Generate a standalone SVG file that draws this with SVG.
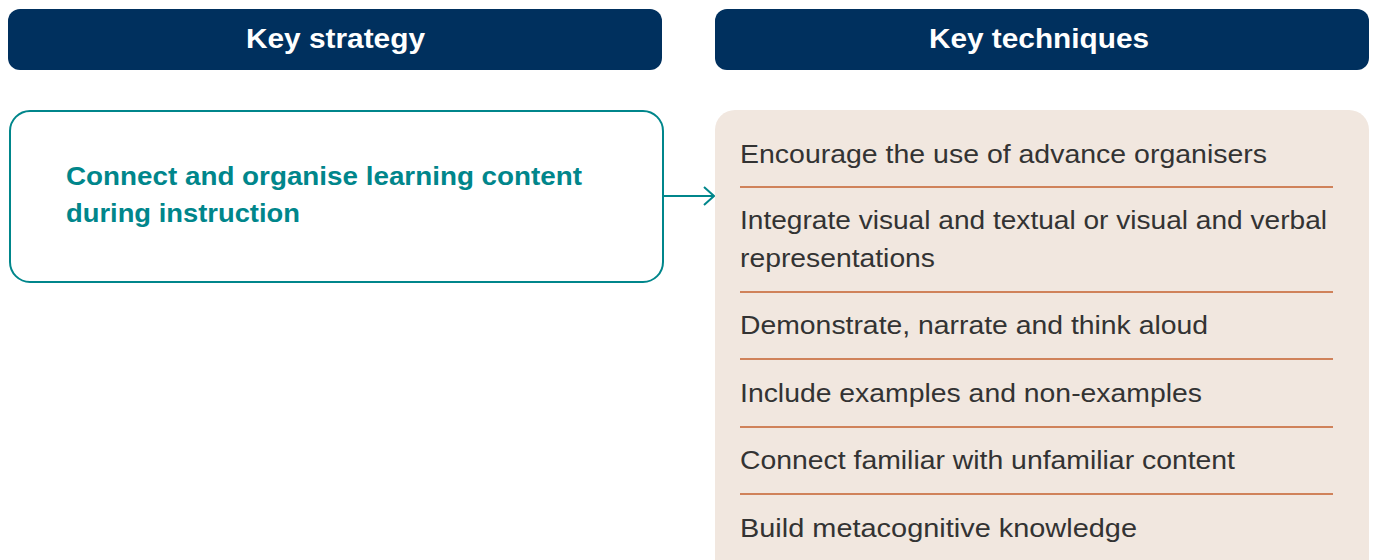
<svg xmlns="http://www.w3.org/2000/svg" width="1375" height="560" viewBox="0 0 1375 560">
  <style>
    .hdr { fill: #00305E; }
    .hdr-text { font-family: "Liberation Sans", Arial, sans-serif; font-weight: 700; font-size: 27px; fill: #ffffff; text-anchor: middle; }
    .strategy-box { fill: #ffffff; stroke: #00868B; stroke-width: 2; }
    .strategy-text { font-family: "Liberation Sans", Arial, sans-serif; font-weight: 700; font-size: 25px; fill: #00868B; }
    .panel { fill: #F1E7DF; }
    .item { font-family: "Liberation Sans", Arial, sans-serif; font-weight: 400; font-size: 25px; fill: #333333; }
    .divider { stroke: #D0825A; stroke-width: 2; }
    .conn { fill: none; stroke: #00868B; stroke-width: 2; }
  </style>
  <defs>
    <marker id="chev" markerWidth="12" markerHeight="20" refX="11" refY="10" orient="auto" markerUnits="userSpaceOnUse">
      <path d="M1,1 L11,10 L1,19" fill="none" stroke="#00868B" stroke-width="2"/>
    </marker>
  </defs>

  <g id="header-strategy">
    <rect class="hdr" x="8" y="9" width="654" height="61" rx="12"/>
    <text class="hdr-text" x="335.5" y="48" textLength="179" lengthAdjust="spacingAndGlyphs">Key strategy</text>
  </g>

  <g id="header-techniques">
    <rect class="hdr" x="715" y="9" width="654" height="61" rx="12"/>
    <text class="hdr-text" x="1039" y="48" textLength="220" lengthAdjust="spacingAndGlyphs">Key techniques</text>
  </g>

  <g id="strategy">
    <rect class="strategy-box" x="10" y="111" width="653" height="171" rx="20"/>
    <text class="strategy-text" x="66" y="185" textLength="516" lengthAdjust="spacingAndGlyphs">Connect and organise learning content</text>
    <text class="strategy-text" x="66" y="222" textLength="234" lengthAdjust="spacingAndGlyphs">during instruction</text>
  </g>

  <g id="techniques">
    <rect class="panel" x="715" y="110" width="654" height="470" rx="20"/>
    <text class="item" x="740" y="163" textLength="527" lengthAdjust="spacingAndGlyphs">Encourage the use of advance organisers</text>
    <line class="divider" x1="740" y1="187" x2="1333" y2="187"/>
    <text class="item" x="740" y="229" textLength="587" lengthAdjust="spacingAndGlyphs">Integrate visual and textual or visual and verbal</text>
    <text class="item" x="740" y="267" textLength="195" lengthAdjust="spacingAndGlyphs">representations</text>
    <line class="divider" x1="740" y1="292" x2="1333" y2="292"/>
    <text class="item" x="740" y="334" textLength="468" lengthAdjust="spacingAndGlyphs">Demonstrate, narrate and think aloud</text>
    <line class="divider" x1="740" y1="359" x2="1333" y2="359"/>
    <text class="item" x="740" y="402" textLength="462" lengthAdjust="spacingAndGlyphs">Include examples and non-examples</text>
    <line class="divider" x1="740" y1="427" x2="1333" y2="427"/>
    <text class="item" x="740" y="469" textLength="495" lengthAdjust="spacingAndGlyphs">Connect familiar with unfamiliar content</text>
    <line class="divider" x1="740" y1="494" x2="1333" y2="494"/>
    <text class="item" x="740" y="537" textLength="397" lengthAdjust="spacingAndGlyphs">Build metacognitive knowledge</text>
  </g>

  <g id="connectors">
    <path class="conn" d="M663,196 L714,196" marker-end="url(#chev)"/>
  </g>
</svg>
